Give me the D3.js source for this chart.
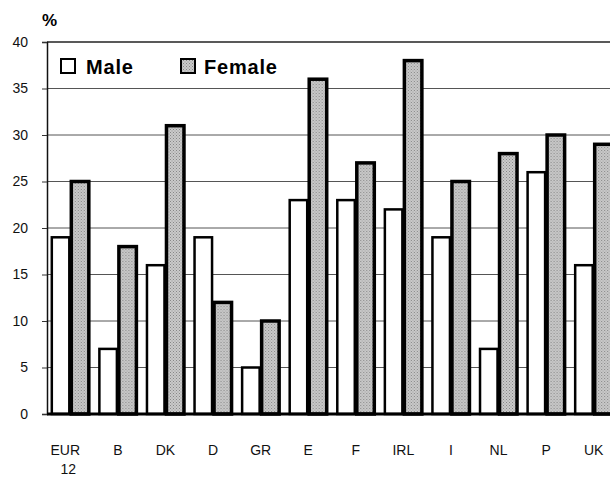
<!DOCTYPE html>
<html><head><meta charset="utf-8">
<script src="https://cdn.jsdelivr.net/npm/d3@7"></script>
<style>body{margin:0;background:#fff}svg{display:block}</style>
</head><body>
<svg id="c" width="610" height="479"></svg>
<script>
const categories = ["EUR 12","B","DK","D","GR","E","F","IRL","I","NL","P","UK"];
const male   = [19, 7, 16, 19, 5, 23, 23, 22, 19, 7, 26, 16];
const female = [25, 18, 31, 12, 10, 36, 27, 38, 25, 28, 30, 29];
const seriesNames = ["Male","Female"];
const yTicks = [0,5,10,15,20,25,30,35,40];

(function(){
const svg = d3.select("#c");
const font = "Arial, 'Liberation Sans', sans-serif";
const defs = svg.append("defs");
const pat = defs.append("pattern").attr("id","dots").attr("width",3).attr("height",3).attr("patternUnits","userSpaceOnUse");
pat.append("rect").attr("width",3).attr("height",3).attr("fill","#cacaca");
pat.append("rect").attr("x",0).attr("y",0).attr("width",1).attr("height",1).attr("fill","#858585");
pat.append("rect").attr("x",1.5).attr("y",1.5).attr("width",1).attr("height",1).attr("fill","#959595");

const mLeft = 47, mTop = 42, mBottom = 414;
const y = d3.scaleLinear().domain([0,40]).range([mBottom, mTop]);
const x = d3.scaleBand().domain(categories).range([mLeft, 617]).paddingInner(0.18).paddingOuter(0.08);
const xs = d3.scaleBand().domain(seriesNames).range([0, x.bandwidth()]);

// gridlines
svg.append("g").selectAll("line").data(yTicks.filter(d=>d>0)).join("line")
  .attr("x1", mLeft).attr("x2", 610).attr("y1", d=>y(d)).attr("y2", d=>y(d))
  .attr("stroke", d=>d===40?"#222":"#555").attr("stroke-width", d=>d===40?1.5:1);

// y axis
const ya = svg.append("g").attr("transform",`translate(${mLeft},0)`)
  .call(d3.axisLeft(y).tickValues(yTicks).tickSize(5).tickPadding(14));
ya.select(".domain").attr("stroke","#111").attr("stroke-width",1.5);
ya.selectAll(".tick line").attr("stroke","#333");
ya.selectAll("text").attr("font-family",font).attr("font-size",14).attr("fill","#111");

svg.append("text").attr("x",42).attr("y",26).attr("font-family",font).attr("font-size",17).attr("font-weight","bold").text("%");

// legend background
svg.append("rect").attr("x",52).attr("y",46).attr("width",250).attr("height",38).attr("fill","#fff");

// bars
const data = categories.map((c,i)=>({c, vals:[{s:"Male",v:male[i]},{s:"Female",v:female[i]}]}));
const g = svg.append("g");
const grp = g.selectAll("g").data(data).join("g").attr("transform",d=>`translate(${x(d.c)},0)`);
grp.selectAll("rect").data(d=>d.vals).join("rect")
  .attr("x", d=>xs(d.s)+1).attr("width", xs.bandwidth()-2)
  .attr("y", d=>y(d.v)).attr("height", d=>mBottom - y(d.v))
  .attr("fill", d=>d.s==="Male"?"#fff":"url(#dots)")
  .attr("stroke","#000").attr("stroke-width", d=>d.s==="Male"?2.5:3.5);

// baseline
svg.append("line").attr("x1",mLeft).attr("x2",610).attr("y1",mBottom).attr("y2",mBottom).attr("stroke","#000").attr("stroke-width",3);

// x labels
const xl = svg.append("g");
categories.forEach(c=>{
  const parts = c.split(" ");
  const t = xl.append("text").attr("y",455)
    .attr("text-anchor","middle").attr("font-family",font).attr("font-size",14).attr("fill","#111");
  parts.forEach((p,i)=>t.append("tspan").attr("x", x(c)+x.bandwidth()/2 - (parts.length>1?(i? 2:5):0)).attr("dy", i?19:0).text(p));
});

// legend
const lg = svg.append("g").attr("font-family",font).attr("font-size",20).attr("font-weight","bold").attr("letter-spacing",0.8);
lg.append("rect").attr("x",61).attr("y",59).attr("width",14).attr("height",14).attr("fill","#fff").attr("stroke","#000").attr("stroke-width",2);
lg.append("text").attr("x",86).attr("y",74).text(seriesNames[0]);
lg.append("rect").attr("x",181).attr("y",59).attr("width",14).attr("height",14).attr("fill","url(#dots)").attr("stroke","#000").attr("stroke-width",2);
lg.append("text").attr("x",204).attr("y",74).text(seriesNames[1]);
})();
</script>
</body></html>
